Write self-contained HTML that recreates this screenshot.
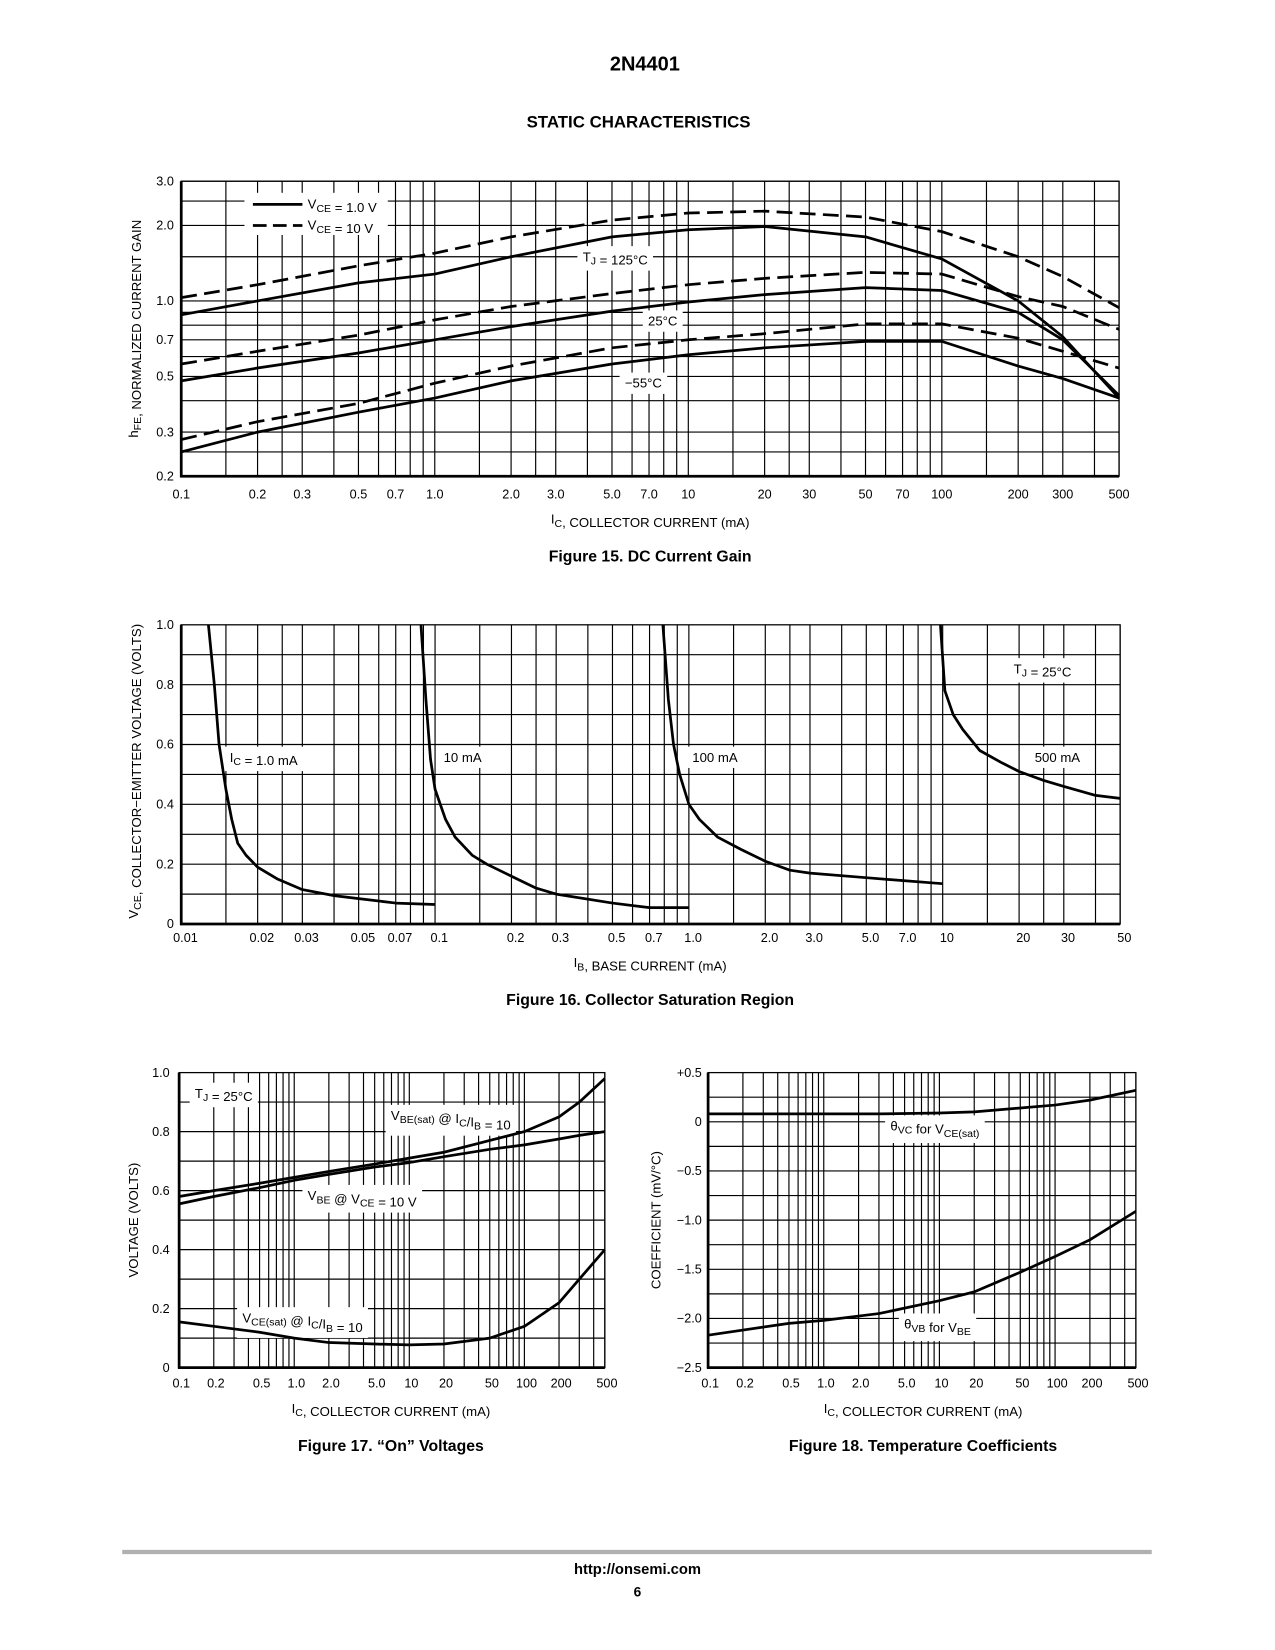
<!DOCTYPE html>
<html><head><meta charset="utf-8"><title>2N4401 Static Characteristics</title>
<style>
html,body{margin:0;padding:0;background:#fff;}
svg{display:block;font-family:"Liberation Sans",Arial,sans-serif;}
text{fill:#000;}
</style></head>
<body>
<svg id="page" xmlns="http://www.w3.org/2000/svg" width="1275" height="1650" viewBox="0 0 1210 1566" preserveAspectRatio="none">
<text x="612" y="67" font-size="19" font-weight="bold" text-anchor="middle">2N4401</text>
<text x="606" y="121" font-size="16" font-weight="bold" text-anchor="middle">STATIC CHARACTERISTICS</text>
<text x="617" y="533" font-size="15" font-weight="bold" text-anchor="middle">Figure 15. DC Current Gain</text>
<text x="617" y="954" font-size="15" font-weight="bold" text-anchor="middle">Figure 16. Collector Saturation Region</text>
<text x="371" y="1377" font-size="15" font-weight="bold" text-anchor="middle">Figure 17. “On” Voltages</text>
<text x="876" y="1377" font-size="15" font-weight="bold" text-anchor="middle">Figure 18. Temperature Coefficients</text>
<line x1="116" y1="1473" x2="1093" y2="1473" stroke="#b0b0b0" stroke-width="4"/>
<text x="605" y="1494" font-size="14" font-weight="bold" text-anchor="middle">http://onsemi.com</text>
<text x="605" y="1515" font-size="13" font-weight="bold" text-anchor="middle">6</text>
</svg>
<script>
// ---------- Figure 15 data ----------
const ic15 = [0.1,0.2,0.5,1,2,5,10,20,50,100,200,300,500];
const hfe125Vce1 = [0.88,1.0,1.18,1.28,1.5,1.8,1.92,1.98,1.8,1.47,1.0,0.72,0.41];
const hfe125Vce10 = [1.03,1.16,1.38,1.55,1.8,2.1,2.24,2.28,2.16,1.89,1.5,1.25,0.94];
const hfe25Vce1 = [0.48,0.54,0.62,0.70,0.79,0.91,0.99,1.06,1.13,1.1,0.9,0.7,0.42];
const hfe25Vce10 = [0.56,0.63,0.73,0.84,0.95,1.07,1.16,1.23,1.3,1.28,1.04,0.95,0.77];
const hfeM55Vce1 = [0.25,0.30,0.36,0.41,0.48,0.56,0.61,0.65,0.69,0.69,0.55,0.49,0.41];
const hfeM55Vce10 = [0.28,0.33,0.39,0.47,0.55,0.65,0.70,0.74,0.81,0.81,0.71,0.63,0.54];
const fig15XTicks = ["0.1","0.2","0.3","0.5","0.7","1.0","2.0","3.0","5.0","7.0","10","20","30","50","70","100","200","300","500"];
const fig15YTicks = ["0.2","0.3","0.5","0.7","1.0","2.0","3.0"];
const fig15YGrid = [0.2,0.25,0.3,0.4,0.5,0.6,0.7,0.8,0.9,1.0,1.5,2.0,2.5,3.0];
// ---------- Figure 16 data ----------
const ib1mA = [0.0128,0.0135,0.0141,0.015,0.0158,0.0167,0.018,0.02,0.024,0.03,0.04,0.05,0.07,0.1];
const vce1mA = [1.0,0.8,0.6,0.45,0.35,0.27,0.23,0.19,0.15,0.115,0.095,0.085,0.07,0.065];
const ib10mA = [0.088,0.092,0.096,0.1,0.11,0.12,0.14,0.16,0.2,0.25,0.3,0.5,0.7,1.0];
const vce10mA = [1.0,0.75,0.55,0.45,0.35,0.29,0.23,0.2,0.16,0.12,0.1,0.07,0.055,0.055];
const ib100mA = [0.79,0.83,0.87,0.92,1.0,1.1,1.3,1.6,2.0,2.5,3,5,7,10];
const vce100mA = [1.0,0.75,0.6,0.5,0.4,0.35,0.29,0.25,0.21,0.18,0.17,0.155,0.145,0.135];
const ib500mA = [9.8,10.2,11,12,14,17,20,25,30,40,50];
const vce500mA = [1.0,0.78,0.7,0.65,0.58,0.54,0.51,0.48,0.46,0.43,0.42];
const fig16XTicks = ["0.01","0.02","0.03","0.05","0.07","0.1","0.2","0.3","0.5","0.7","1.0","2.0","3.0","5.0","7.0","10","20","30","50"];
const fig16YTicks = ["0","0.2","0.4","0.6","0.8","1.0"];
// ---------- Figure 17 data ----------
const ic17 = [0.1,0.2,0.5,1,2,5,10,20,50,100,200,300,500];
const vbeSat = [0.58,0.6,0.625,0.645,0.665,0.69,0.71,0.73,0.77,0.8,0.85,0.9,0.98];
const vbeOn = [0.555,0.58,0.61,0.635,0.655,0.68,0.695,0.715,0.74,0.755,0.775,0.787,0.8];
const vceSat = [0.155,0.14,0.12,0.1,0.085,0.08,0.077,0.08,0.1,0.14,0.22,0.3,0.4];
const fig17XTicks = ["0.1","0.2","0.5","1.0","2.0","5.0","10","20","50","100","200","500"];
const fig17YTicks = ["0","0.2","0.4","0.6","0.8","1.0"];
// ---------- Figure 18 data ----------
const ic18 = [0.1,0.5,1,3,10,20,50,100,200,500];
const thetaVC = [0.08,0.08,0.08,0.08,0.09,0.1,0.14,0.17,0.22,0.32];
const thetaVB = [-2.17,-2.05,-2.02,-1.95,-1.82,-1.73,-1.53,-1.37,-1.2,-0.91];
const fig18XTicks = ["0.1","0.2","0.5","1.0","2.0","5.0","10","20","50","100","200","500"];
const fig18YTicks = ["+0.5","0","−0.5","−1.0","−1.5","−2.0","−2.5"];

const NS = "http://www.w3.org/2000/svg";
const svg = document.getElementById('page');
function mk(tag, attrs, parent){
  const e = document.createElementNS(NS, tag);
  for (const k in attrs) e.setAttribute(k, attrs[k]);
  (parent||svg).appendChild(e);
  return e;
}
function num(s){ return parseFloat(s.replace('−','-').replace('+','')); }
function logScale(d0,d1,r0,r1){ return v => r0 + (Math.log10(v)-Math.log10(d0))/(Math.log10(d1)-Math.log10(d0))*(r1-r0); }
function linScale(d0,d1,r0,r1){ return v => r0 + (v-d0)/(d1-d0)*(r1-r0); }
function logGridVals(lo, hi, mults){
  const out=[];
  for (let d=Math.floor(Math.log10(lo)); d<=Math.ceil(Math.log10(hi)); d++){
    for (const m of mults){ const v=m*Math.pow(10,d); if (v>=lo*0.999 && v<=hi*1.001) out.push(v); }
  }
  return out;
}
function seriesPath(xs, ys, sx, sy){
  return xs.map((v,i)=>(i?'L':'M')+sx(v).toFixed(1)+' '+sy(ys[i]).toFixed(1)).join(' ');
}
function bgLabel(g, x, y, html, name, anchor){
  const r = mk('rect', {fill:'#fff'}, g);
  
  
  const t = mk('text', {x:x, y:y, 'font-size':12.5, 'text-anchor':anchor||'start'}, g);
  
  
  t.innerHTML = html;
  const b = t.getBBox();
  r.setAttribute('x', b.x-5); r.setAttribute('y', b.y-3);
  r.setAttribute('width', b.width+10); r.setAttribute('height', b.height+6);
}
function frame(g, x0,y0,x1,y1){
  mk('rect',{x:x0,y:y0,width:x1-x0,height:y1-y0,fill:'none',stroke:'#000','stroke-width':1.2},g);
  mk('line',{x1:x0,y1:y0,x2:x0,y2:y1+1,stroke:'#000','stroke-width':2.6},g);
  mk('line',{x1:x0-1,y1:y1,x2:x1,y2:y1,stroke:'#000','stroke-width':2.6},g);
}
function drawCurve(g, xs, ys, sx, sy, name, dashed){
  const p = mk('path',{d:seriesPath(xs,ys,sx,sy),fill:'none',stroke:'#000','stroke-width':2.6,'stroke-linejoin':'round'},g);
  if (dashed) p.setAttribute('stroke-dasharray','15 7');
  
  
}
function vline(g,x,y0,y1){ mk('line',{x1:x,y1:y0,x2:x,y2:y1,stroke:'#000','stroke-width':1.1},g); }
function hline(g,y,x0,x1){ mk('line',{x1:x0,y1:y,x2:x1,y2:y,stroke:'#000','stroke-width':1.1},g); }
function tickText(g,x,y,s,anchor,name){
  const t = mk('text',{x:x,y:y,'font-size':12,'text-anchor':anchor},g);
  
  
  t.textContent = s;
}
function axisTitle(g,x,y,html,name,rot){
  const t = mk('text',{x:x,y:y,'font-size':12.5,'text-anchor':'middle'},g);
  if (rot) t.setAttribute('transform','rotate(-90 '+x+' '+y+')');
  
  
  t.innerHTML = html;
}
const SUB = s => '<tspan font-size="10" dy="3">'+s+'</tspan><tspan dy="-3"> </tspan>';
const SUBN = s => '<tspan font-size="10" dy="3">'+s+'</tspan><tspan dy="-3"></tspan>';

// ================= Figure 15 =================
(function(){
  const g = mk('g',{});
  
  
  const X0=172,X1=1062,Y0=172,Y1=452;
  const sx = logScale(0.1,500,X0,X1), sy = logScale(0.2,3.0,Y1,Y0);
  logGridVals(0.1,500,[1,1.5,2,2.5,3,4,5,6,7,8,9]).forEach(v=>vline(g,sx(v),Y0,Y1));
  fig15YGrid.forEach(v=>hline(g,sy(v),X0,X1));
  frame(g,X0,Y0,X1,Y1);
  fig15XTicks.forEach(s=>tickText(g,sx(num(s)),Y1+21,s,'middle','x-tick-label'));
  fig15YTicks.forEach(s=>tickText(g,X0-7,sy(num(s))+4,s,'end','y-tick-label'));
  drawCurve(g,ic15,hfe125Vce10,sx,sy,'curve-125c-vce10',true);
  drawCurve(g,ic15,hfe125Vce1,sx,sy,'curve-125c-vce1',false);
  drawCurve(g,ic15,hfe25Vce10,sx,sy,'curve-25c-vce10',true);
  drawCurve(g,ic15,hfe25Vce1,sx,sy,'curve-25c-vce1',false);
  drawCurve(g,ic15,hfeM55Vce10,sx,sy,'curve-minus55c-vce10',true);
  drawCurve(g,ic15,hfeM55Vce1,sx,sy,'curve-minus55c-vce1',false);
  const lg = mk('g',{},g);
  
  
  mk('rect',{x:232,y:183,width:136,height:40,fill:'#fff'},lg);
  mk('line',{x1:240,y1:194,x2:287,y2:194,stroke:'#000','stroke-width':2.6},lg);
  mk('line',{x1:240,y1:214,x2:287,y2:214,stroke:'#000','stroke-width':2.6,'stroke-dasharray':'13 6'},lg);
  const t1 = mk('text',{x:292,y:198,'font-size':12.5},lg); t1.innerHTML='V'+SUBN('CE')+' = 1.0 V';
   
  const t2 = mk('text',{x:292,y:218,'font-size':12.5},lg); t2.innerHTML='V'+SUBN('CE')+' = 10 V';
   
  bgLabel(g,553,248,'T'+SUBN('J')+' = 125°C','label-tj-125c');
  bgLabel(g,615,309,'25°C','label-25c');
  bgLabel(g,593,368,'−55°C','label-minus55c');
  axisTitle(g,617,497,'I'+SUBN('C')+', COLLECTOR CURRENT (mA)','x-axis-title',false);
  axisTitle(g,131,312,'h'+SUBN('FE')+', NORMALIZED CURRENT GAIN','y-axis-title',true);
})();

// ================= Figure 16 =================
(function(){
  const g = mk('g',{});
  
  
  const X0=172,X1=1063,Y0=593,Y1=877;
  const sx = logScale(0.01,50,X0,X1), sy = linScale(0,1,Y1,Y0);
  logGridVals(0.01,50,[1,1.5,2,2.5,3,4,5,6,7,8,9]).forEach(v=>vline(g,sx(v),Y0,Y1));
  for (let i=1;i<10;i++) hline(g,sy(i/10),X0,X1);
  frame(g,X0,Y0,X1,Y1);
  fig16XTicks.forEach(s=>tickText(g,sx(num(s))+4,Y1+17,s,'middle','x-tick-label'));
  fig16YTicks.forEach(s=>tickText(g,X0-7,sy(num(s))+4,s,'end','y-tick-label'));
  drawCurve(g,ib1mA,vce1mA,sx,sy,'curve-ic-1ma',false);
  drawCurve(g,ib10mA,vce10mA,sx,sy,'curve-ic-10ma',false);
  drawCurve(g,ib100mA,vce100mA,sx,sy,'curve-ic-100ma',false);
  drawCurve(g,ib500mA,vce500mA,sx,sy,'curve-ic-500ma',false);
  bgLabel(g,218,723,'I'+SUBN('C')+' = 1.0 mA','label-ic-1ma');
  bgLabel(g,421,723,'10 mA','label-10ma');
  bgLabel(g,657,723,'100 mA','label-100ma');
  bgLabel(g,982,723,'500 mA','label-500ma');
  bgLabel(g,962,639,'T'+SUBN('J')+' = 25°C','label-tj-25c');
  axisTitle(g,617,918,'I'+SUBN('B')+', BASE CURRENT (mA)','x-axis-title',false);
  axisTitle(g,131,732,'V'+SUBN('CE')+', COLLECTOR−EMITTER VOLTAGE (VOLTS)','y-axis-title',true);
})();

// ================= Figure 17 =================
(function(){
  const g = mk('g',{});
  
  
  const X0=170,X1=574,Y0=1018,Y1=1298;
  const sx = logScale(0.1,500,X0,X1), sy = linScale(0,1,Y1,Y0);
  logGridVals(0.1,500,[1,2,3,4,5,6,7,8,9]).forEach(v=>vline(g,sx(v),Y0,Y1));
  for (let i=1;i<10;i++) hline(g,sy(i/10),X0,X1);
  frame(g,X0,Y0,X1,Y1);
  fig17XTicks.forEach(s=>tickText(g,sx(num(s))+2,Y1+19,s,'middle','x-tick-label'));
  fig17YTicks.forEach(s=>tickText(g,X0-9,sy(num(s))+4,s,'end','y-tick-label'));
  bgLabel(g,185,1042,'T'+SUBN('J')+' = 25°C','label-tj-25c');
  bgLabel(g,371,1063,'V'+SUBN('BE(sat)')+' @ I'+SUBN('C')+'/I'+SUBN('B')+' = 10','label-vbe-sat');
  bgLabel(g,292,1139,'V'+SUBN('BE')+' @ V'+SUBN('CE')+' = 10 V','label-vbe-on');
  bgLabel(g,230,1255,'V'+SUBN('CE(sat)')+' @ I'+SUBN('C')+'/I'+SUBN('B')+' = 10','label-vce-sat');
  drawCurve(g,ic17,vbeSat,sx,sy,'curve-vbe-sat',false);
  drawCurve(g,ic17,vbeOn,sx,sy,'curve-vbe-on',false);
  drawCurve(g,ic17,vceSat,sx,sy,'curve-vce-sat',false);
  axisTitle(g,371,1341,'I'+SUBN('C')+', COLLECTOR CURRENT (mA)','x-axis-title',false);
  axisTitle(g,131,1158,'VOLTAGE (VOLTS)','y-axis-title',true);
})();

// ================= Figure 18 =================
(function(){
  const g = mk('g',{});
  
  
  const X0=672,X1=1078,Y0=1018,Y1=1298;
  const sx = logScale(0.1,500,X0,X1), sy = linScale(-2.5,0.5,Y1,Y0);
  logGridVals(0.1,500,[1,2,3,4,5,6,7,8,9]).forEach(v=>vline(g,sx(v),Y0,Y1));
  for (let i=1;i<12;i++) hline(g,sy(-2.5+i*0.25),X0,X1);
  frame(g,X0,Y0,X1,Y1);
  fig18XTicks.forEach(s=>tickText(g,sx(num(s))+2,Y1+19,s,'middle','x-tick-label'));
  fig18YTicks.forEach(s=>tickText(g,X0-6,sy(num(s))+4,s,'end','y-tick-label'));
  bgLabel(g,845,1073,'θ'+SUBN('VC')+' for V'+SUBN('CE(sat)'),'label-theta-vc');
  bgLabel(g,858,1261,'θ'+SUBN('VB')+' for V'+SUBN('BE'),'label-theta-vb');
  drawCurve(g,ic18,thetaVC,sx,sy,'curve-theta-vc',false);
  drawCurve(g,ic18,thetaVB,sx,sy,'curve-theta-vb',false);
  axisTitle(g,876,1341,'I'+SUBN('C')+', COLLECTOR CURRENT (mA)','x-axis-title',false);
  axisTitle(g,627,1158,'COEFFICIENT (mV/°C)','y-axis-title',true);
})();
</script>
</body></html>
